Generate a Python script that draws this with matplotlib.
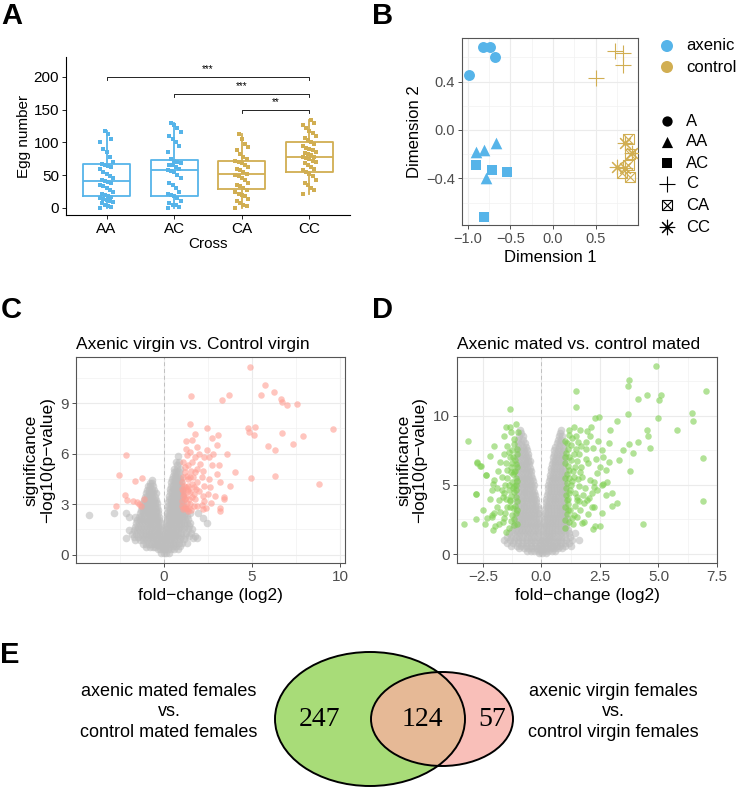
import matplotlib
matplotlib.use("Agg")
import matplotlib.pyplot as plt
from matplotlib.patches import Ellipse
import numpy as np

plt.rcParams['font.family'] = ['Liberation Sans', 'DejaVu Sans']

# ---------------- data ----------------
# A: egg number per cross
crosses = ["AA", "AC", "CA", "CC"]
eggs_AA = [0, 2, 3, 5, 7, 9, 10, 12, 14, 15, 17, 18, 20, 22, 25, 28, 30, 33, 35, 38,
           40, 41, 43, 45, 48, 52, 55, 60, 62, 64, 65, 67, 70, 78, 85, 90, 100, 105, 113, 118]
eggs_AC = [0, 2, 4, 5, 8, 10, 15, 18, 20, 22, 25, 30, 35, 38, 45, 50, 55, 57, 58, 60,
           62, 65, 66, 68, 70, 72, 75, 85, 95, 100, 105, 110, 115, 122, 127, 130]
eggs_CA = [0, 3, 5, 8, 10, 14, 18, 20, 22, 25, 28, 30, 33, 35, 38, 42, 45, 48, 50, 52,
           55, 58, 60, 62, 65, 68, 70, 72, 75, 78, 82, 88, 93, 98, 105, 112]
eggs_CC = [22, 27, 30, 35, 38, 42, 48, 52, 55, 58, 60, 63, 65, 68, 70, 72, 74, 76, 77, 78,
           80, 82, 84, 86, 88, 90, 92, 95, 98, 100, 103, 106, 110, 114, 118, 122, 126, 130, 134]
box_q1 = [18, 18, 29, 55]
box_med = [41, 58, 51, 77]
box_q3 = [67, 73, 71, 100]
box_lo = [0, 0, 0, 22]
box_hi = [118, 130, 112, 134]
sig_from = [1, 2, 3]
sig_to = [4, 4, 4]
sig_y = [200, 174, 150]
sig_lab = ["***", "***", "**"]

# B: MDS coordinates
mds_A = [(-0.985, 0.457), (-0.824, 0.688), (-0.74, 0.688), (-0.68, 0.60)]
mds_AA = [(-0.906, -0.179), (-0.805, -0.165), (-0.672, -0.110), (-0.785, -0.40)]
mds_AC = [(-0.906, -0.289), (-0.711, -0.331), (-0.543, -0.35), (-0.809, -0.716)]
mds_C = [(0.727, 0.655), (0.825, 0.633), (0.825, 0.537), (0.504, 0.427)]
mds_CA = [(0.883, -0.077), (0.90, -0.20), (0.883, -0.289), (0.903, -0.386), (0.805, -0.358)]
mds_CC = [(0.844, -0.11), (0.754, -0.303), (0.922, -0.193), (0.844, -0.317)]

# C: virgin volcano, non-significant cloud (rows of y: x values) and significant genes
c_grey = [
    (5.85, [0.8]), (5.5, [0.7, 0.86]), (5.1, [0.6, 0.75, 0.9]),
    (4.7, [0.5, 0.64, 0.78, 0.92]), (4.3, [0.44, 0.58, 0.72, 0.86, 1.0]),
    (3.9, [0.38, 0.52, 0.66, 0.8, 0.94, 1.06]), (3.5, [0.32, 0.46, 0.6, 0.74, 0.88, 1.02, 1.12]),
    (3.1, [0.27, 0.41, 0.55, 0.69, 0.83, 0.97, 1.1]),
    (2.7, [0.22, 0.36, 0.5, 0.64, 0.78, 0.92, 1.06, 1.2]),
    (2.3, [0.18, 0.32, 0.46, 0.6, 0.74, 0.88, 1.02, 1.16, 1.3]),
    (1.9, [0.15, 0.29, 0.43, 0.57, 0.71, 0.85, 1.0, 1.15, 1.3, 1.5]),
    (1.5, [0.12, 0.26, 0.4, 0.54, 0.68, 0.82, 0.98, 1.15, 1.35, 1.6]),
    (1.1, [0.08, 0.22, 0.36, 0.5, 0.65, 0.8, 0.98, 1.2, 1.45, 1.8]),
    (0.7, [-0.1, 0.05, 0.2, 0.35, 0.5, 0.66, 0.85, 1.05, 1.3]),
    (0.35, [-0.35, -0.2, -0.05, 0.1, 0.25, 0.4, 0.6, 0.8]),
    (0.08, [-0.15, 0.0, 0.15, 0.3]),
    (5.3, [0.78]), (4.9, [0.57, 0.7, 0.84]), (4.5, [0.48, 0.62, 0.76, 0.9]),
    (4.1, [0.41, 0.55, 0.69, 0.83, 0.97]), (3.7, [0.35, 0.49, 0.63, 0.77, 0.91, 1.05]),
    (3.3, [0.3, 0.44, 0.58, 0.72, 0.86, 1.0]), (2.9, [0.25, 0.39, 0.53, 0.67, 0.81, 0.95, 1.12]),
    (2.5, [0.2, 0.34, 0.48, 0.62, 0.76, 0.9, 1.04, 1.22]),
    (2.1, [0.17, 0.31, 0.45, 0.59, 0.73, 0.87, 1.02, 1.2, 1.4]),
    (1.7, [0.13, 0.27, 0.41, 0.55, 0.69, 0.84, 1.0, 1.18, 1.42]),
    (1.3, [0.1, 0.24, 0.38, 0.52, 0.66, 0.82, 1.0, 1.25, 1.55]),
    (0.9, [0.0, 0.14, 0.28, 0.43, 0.58, 0.74, 0.92, 1.15]),
    (0.5, [-0.25, -0.1, 0.05, 0.2, 0.36, 0.52, 0.7, 0.95]),
    (4.45, [-0.66]), (4.05, [-0.9, -0.76, -0.62]),
    (3.65, [-1.0, -0.86, -0.72, -0.58, -0.46]),
    (3.25, [-1.12, -0.98, -0.84, -0.7, -0.56, -0.42]),
    (2.85, [-1.22, -1.08, -0.94, -0.8, -0.66, -0.52, -0.38]),
    (2.45, [-1.35, -1.2, -1.05, -0.9, -0.75, -0.6, -0.46, -0.32]),
    (2.05, [-1.5, -1.32, -1.16, -1.0, -0.85, -0.7, -0.55, -0.4, -0.26]),
    (1.65, [-1.65, -1.45, -1.28, -1.12, -0.96, -0.8, -0.65, -0.5, -0.35, -0.2]),
    (1.25, [-1.8, -1.55, -1.36, -1.18, -1.02, -0.86, -0.7, -0.55, -0.4, -0.25, -0.12]),
    (0.85, [-1.6, -1.35, -1.15, -0.96, -0.78, -0.62, -0.46, -0.3, -0.16]),
    (0.45, [-1.0, -0.8, -0.62, -0.48]),
    (4.25, [-0.8, -0.66]), (3.85, [-0.95, -0.82, -0.68, -0.55]),
    (3.45, [-1.06, -0.92, -0.78, -0.64, -0.5]),
    (3.05, [-1.18, -1.04, -0.9, -0.76, -0.62, -0.48, -0.36]),
    (2.65, [-1.3, -1.15, -1.0, -0.86, -0.72, -0.58, -0.44, -0.32]),
    (2.25, [-1.42, -1.26, -1.1, -0.95, -0.8, -0.66, -0.52, -0.38, -0.26]),
    (1.85, [-1.58, -1.4, -1.22, -1.06, -0.9, -0.75, -0.6, -0.45, -0.3, -0.18]),
    (1.45, [-1.7, -1.5, -1.32, -1.15, -0.98, -0.82, -0.66, -0.5, -0.36, -0.22, -0.1]),
    (1.05, [-1.7, -1.45, -1.25, -1.06, -0.9, -0.74, -0.58, -0.42, -0.28, -0.14]),
    (0.65, [-1.2, -1.0, -0.82, -0.66, -0.5, -0.36, -0.22]),
    (2.35, [-4.25]), (2.5, [-2.82, -2.16]), (2.25, [-1.6, -1.95]), (1.45, [-1.98]),
    (1.0, [-2.16, 1.65, 1.9]), (1.85, [2.45]), (2.5, [1.5, 1.95]), (2.2, [2.25]),
]
c_sig = [
    (4.90, 11.15), (5.71, 10.06), (5.51, 9.52), (6.27, 9.66), (6.64, 9.27), (6.71, 9.07),
    (6.97, 8.87), (7.55, 8.93), (1.55, 9.44), (3.32, 9.2), (3.68, 9.48), (1.47, 7.78),
    (2.44, 7.52), (3.09, 7.10), (2.75, 6.91), (4.75, 7.52), (4.85, 7.30), (5.15, 7.56),
    (5.11, 7.13), (6.71, 7.24), (7.88, 7.07), (9.61, 7.44), (5.89, 6.43), (6.31, 6.23),
    (7.35, 6.6), (4.92, 4.56), (6.31, 4.68), (8.81, 4.19), (3.57, 5.99), (4.06, 4.92),
    (3.75, 4.10), (3.40, 3.31), (3.21, 4.32), (3.03, 4.82), (3.13, 5.35), (2.73, 5.35),
    (2.45, 6.2), (2.27, 5.8), (1.89, 6.39), (1.63, 6.79), (1.25, 6.73), (1.80, 5.8),
    (1.32, 5.9), (1.18, 5.2), (1.55, 5.0), (2.07, 5.4), (2.17, 4.6), (2.55, 4.5),
    (1.89, 4.3), (1.40, 4.1), (1.12, 3.8), (1.70, 3.6), (1.29, 3.4), (1.51, 3.0),
    (1.18, 2.8), (1.89, 2.9), (2.27, 3.2), (2.68, 3.05), (1.36, 4.5), (1.67, 4.6),
    (1.12, 4.6), (1.63, 5.5), (1.36, 2.6), (1.23, 2.82), (1.70, 2.9), (2.18, 2.92),
    (2.40, 2.76), (3.21, 2.76), (3.40, 3.4), (1.05, 3.2), (1.15, 3.6), (1.25, 4.0),
    (1.45, 3.3), (1.35, 3.8), (1.6, 4.2), (1.05, 4.3), (1.2, 4.9), (1.4, 5.3),
    (1.75, 4.9), (1.5, 3.7), (1.3, 3.05), (1.1, 2.7), (1.6, 3.4), (2.0, 3.8),
    (2.3, 4.1), (1.9, 5.1), (2.0, 6.0), (1.5, 6.1), (1.25, 6.3), (2.9, 3.5),
    (2.6, 4.0), (2.8, 6.0), (3.2, 2.6),
    (1.02, 2.9), (1.08, 3.5), (1.15, 4.1), (1.02, 3.9), (1.22, 3.3), (1.3, 2.7),
    (1.4, 3.9), (1.5, 4.6), (1.1, 5.5), (1.3, 4.7), (1.45, 2.75), (1.75, 3.3),
    (1.85, 3.9), (2.2, 3.5), (2.5, 3.6), (1.7, 4.0), (2.2, 5.0), (2.55, 5.8),
    (3.0, 6.5), (1.8, 7.2), (2.2, 2.7), (1.55, 2.65),
    (-2.13, 5.93), (-2.54, 4.72), (-1.22, 4.56), (-1.60, 4.4), (-2.20, 3.54),
    (-2.69, 2.9), (-2.07, 3.25), (-1.38, 3.0), (-1.27, 2.9), (-1.74, 3.2),
    (-1.09, 3.3), (-1.50, 3.1),
]

# D: mated volcano
d_grey = [
    (9.0, [0.85, -0.9]), (8.5, [0.75, 0.9, -0.95, -0.8]),
    (8.0, [0.65, 0.8, 0.95, -1.0, -0.85, -0.7]),
    (7.5, [0.55, 0.7, 0.85, 0.98, -1.0, -0.87, -0.74, -0.62]),
    (7.0, [0.5, 0.62, 0.75, 0.88, 1.0, -1.02, -0.9, -0.78, -0.66, -0.55]),
    (6.5, [0.45, 0.58, 0.7, 0.82, 0.95, -1.0, -0.88, -0.76, -0.64, -0.52]),
    (6.0, [0.4, 0.52, 0.65, 0.78, 0.9, 1.0, -1.02, -0.9, -0.78, -0.66, -0.54, -0.44]),
    (5.5, [0.35, 0.48, 0.6, 0.72, 0.85, 0.97, -1.0, -0.88, -0.76, -0.64, -0.52, -0.4]),
    (5.0, [0.3, 0.42, 0.55, 0.68, 0.8, 0.92, 1.02, -1.03, -0.9, -0.78, -0.66, -0.54, -0.42, -0.32]),
    (4.5, [0.27, 0.4, 0.52, 0.65, 0.78, 0.9, 1.0, -1.0, -0.88, -0.76, -0.64, -0.52, -0.4, -0.3]),
    (4.0, [0.22, 0.35, 0.48, 0.6, 0.72, 0.85, 0.97, -1.03, -0.9, -0.78, -0.66, -0.54, -0.42, -0.3, -0.22]),
    (3.5, [0.18, 0.3, 0.43, 0.56, 0.68, 0.8, 0.92, 1.03, -1.0, -0.88, -0.76, -0.64, -0.52, -0.4, -0.28, -0.18]),
    (3.0, [0.15, 0.27, 0.4, 0.52, 0.65, 0.78, 0.9, 1.0, -1.05, -0.92, -0.8, -0.68, -0.56, -0.44, -0.32, -0.2, -0.12]),
    (2.5, [0.12, 0.24, 0.36, 0.48, 0.6, 0.72, 0.85, 0.97, 1.08, -1.1, -0.97, -0.84, -0.72, -0.6, -0.48, -0.36, -0.24, -0.12]),
    (2.0, [0.1, 0.22, 0.34, 0.46, 0.58, 0.7, 0.82, 0.95, 1.05, -1.15, -1.0, -0.87, -0.75, -0.63, -0.5, -0.38, -0.26, -0.14, -0.06]),
    (1.5, [0.08, 0.2, 0.32, 0.44, 0.56, 0.7, 0.85, 1.0, 1.2, 1.45, -1.4, -1.2, -1.05, -0.9, -0.76, -0.62, -0.48, -0.34, -0.2, -0.08]),
    (1.0, [0.05, 0.17, 0.3, 0.42, 0.55, 0.7, 0.85, 1.05, 1.3, 1.6, -1.6, -1.35, -1.15, -0.98, -0.82, -0.66, -0.5, -0.35, -0.2, -0.06]),
    (0.6, [-0.1, 0.05, 0.2, 0.35, 0.5, 0.65, 0.8, 1.0, 1.25, -1.3, -1.05, -0.85, -0.65, -0.45, -0.28]),
    (0.25, [-0.3, -0.15, 0.0, 0.15, 0.3, 0.45, 0.6, -0.6, -0.45]),
    (0.05, [-0.1, 0.05, 0.2]),
    (8.75, [0.8, -0.88]), (8.25, [0.7, 0.86, -0.98, -0.78]),
    (7.75, [0.6, 0.76, 0.92, -1.0, -0.8, -0.66]),
    (7.25, [0.52, 0.66, 0.8, 0.94, -1.01, -0.84, -0.7, -0.58]),
    (6.75, [0.48, 0.6, 0.73, 0.86, 0.98, -1.01, -0.84, -0.7, -0.58, -0.5]),
    (6.25, [0.42, 0.55, 0.68, 0.8, 0.94, -1.01, -0.84, -0.72, -0.6, -0.48]),
    (5.75, [0.38, 0.5, 0.62, 0.75, 0.88, 1.0, -1.01, -0.84, -0.7, -0.58, -0.45]),
    (5.25, [0.32, 0.45, 0.58, 0.7, 0.83, 0.95, -1.02, -0.84, -0.72, -0.6, -0.48, -0.36]),
    (4.75, [0.29, 0.41, 0.54, 0.66, 0.79, 0.91, 1.02, -1.02, -0.84, -0.72, -0.6, -0.47, -0.35]),
    (4.25, [0.25, 0.38, 0.5, 0.62, 0.75, 0.88, 1.0, -1.02, -0.84, -0.72, -0.6, -0.48, -0.36, -0.26]),
    (3.75, [0.2, 0.32, 0.45, 0.58, 0.7, 0.82, 0.95, -1.02, -0.84, -0.72, -0.6, -0.46, -0.34, -0.22]),
    (3.25, [0.16, 0.28, 0.41, 0.54, 0.66, 0.78, 0.9, 1.02, -1.02, -0.86, -0.74, -0.62, -0.5, -0.38, -0.26, -0.15]),
    (2.75, [0.13, 0.25, 0.38, 0.5, 0.62, 0.75, 0.88, 1.0, -1.08, -0.9, -0.78, -0.66, -0.54, -0.42, -0.3, -0.18]),
    (2.25, [0.11, 0.23, 0.35, 0.47, 0.6, 0.72, 0.84, 0.96, 1.06, -1.12, -0.94, -0.81, -0.69, -0.56, -0.44, -0.32, -0.2, -0.09]),
    (1.75, [0.09, 0.21, 0.33, 0.45, 0.57, 0.7, 0.84, 0.98, 1.12, -1.25, -1.1, -0.96, -0.82, -0.69, -0.55, -0.41, -0.27, -0.14]),
    (1.25, [0.06, 0.18, 0.31, 0.43, 0.56, 0.7, 0.86, 1.02, 1.22, -1.48, -1.28, -1.1, -0.94, -0.78, -0.62, -0.46, -0.3, -0.16]),
    (0.8, [-0.05, 0.1, 0.24, 0.38, 0.52, 0.67, 0.82, 1.0, 1.18, -1.45, -1.2, -1.0, -0.8, -0.62, -0.44, -0.28]),
    (0.42, [-0.2, -0.05, 0.1, 0.25, 0.4, 0.55, 0.72, 0.9, -0.95, -0.75, -0.55, -0.38]),
]
d_sig = [
    (4.89, 13.57), (3.73, 12.6), (3.69, 12.17), (1.47, 11.76), (7.04, 11.76), (4.51, 11.47),
    (5.1, 11.5), (4.13, 11.2), (5.03, 11.16), (1.46, 10.6), (3.69, 10.14), (5.0, 9.85),
    (6.44, 10.2), (6.48, 9.65), (2.31, 9.85), (2.45, 9.9), (3.21, 9.6), (2.95, 9.0),
    (5.8, 8.98), (4.5, 9.0), (4.57, 8.55), (4.64, 7.67), (4.13, 8.07), (3.73, 7.96),
    (3.93, 7.33), (3.8, 6.0), (6.92, 6.95), (6.92, 3.8), (3.24, 3.72), (2.65, 5.1),
    (2.8, 5.2), (3.02, 4.4), (4.35, 2.17), (2.2, 1.8), (2.5, 2.0),
    (-3.13, 8.14), (-2.76, 6.62), (-2.58, 6.33), (-2.79, 4.35), (-2.35, 5.68), (-2.04, 7.8),
    (-1.33, 9.22), (-1.07, 9.43), (-1.35, 10.48), (-2.06, 5.1), (-1.9, 4.78), (-1.68, 5.6),
    (-1.47, 6.1), (-1.25, 6.6), (-1.75, 6.69), (-1.39, 7.4), (-1.18, 7.98), (-1.62, 4.15),
    (-1.33, 3.8), (-1.11, 3.45), (-2.1, 2.8), (-1.8, 2.2), (-2.33, 2.6), (-1.18, 4.9),
    (-1.25, 2.8), (-2.04, 2.95), (-2.1, 2.66), (-1.98, 2.04), (-1.78, 3.07), (-1.65, 2.35),
    (-1.4, 1.86), (-1.18, 2.1), (-1.54, 2.95), (-1.33, 3.43), (-1.82, 3.9), (-1.61, 4.4),
    (-1.4, 4.64), (-1.1, 4.15), (-1.33, 3.9), (-2.75, 6.57), (-2.6, 6.33), (-2.78, 4.33),
    (-2.35, 5.72), (-2.04, 5.36), (-2.11, 4.64), (-1.68, 4.64), (-1.08, 5.5), (-1.12, 6.0),
    (-1.1, 5.0), (-1.15, 4.5), (-1.2, 5.8), (-1.08, 6.5), (-1.2, 7.0), (-1.1, 3.0),
    (-1.15, 2.5), (-1.25, 5.2), (-1.3, 6.3), (-1.05, 7.2), (-1.45, 7.8), (-1.6, 8.5),
    (-1.3, 8.8), (-1.5, 9.2), (-2.2, 7.1), (-2.4, 2.2), (-2.05, 1.75), (-1.5, 1.6),
    (-2.8, 2.5), (-3.3, 2.2),
    (-1.02, 3.2), (-1.05, 3.8), (-1.08, 4.6), (-1.02, 5.3), (-1.15, 5.9), (-1.05, 6.3),
    (-1.12, 6.8), (-1.02, 7.6), (-1.15, 8.3), (-1.0, 8.8), (-1.22, 3.3), (-1.28, 4.2),
    (-1.2, 4.8), (-1.38, 5.0), (-1.45, 5.5), (-1.3, 5.9), (-1.5, 6.6), (-1.35, 7.0),
    (-1.25, 7.5), (-1.6, 7.2), (-1.55, 5.0), (-1.5, 4.0), (-1.45, 3.4), (-1.6, 2.6),
    (-1.3, 2.4), (-1.02, 2.2), (-1.85, 6.0), (-1.9, 3.4), (-2.2, 4.0), (-2.5, 3.2),
    (1.38, 9.22), (1.17, 9.0), (1.66, 9.0), (1.94, 8.87), (2.08, 8.5), (1.25, 7.9),
    (1.46, 7.6), (1.89, 7.6), (2.2, 7.7), (2.57, 7.5), (2.64, 7.0), (2.33, 6.9),
    (2.0, 6.6), (1.53, 6.7), (1.17, 7.0), (1.03, 6.6), (1.17, 6.1), (1.38, 5.6),
    (1.66, 5.9), (2.08, 5.35), (2.24, 4.87), (2.38, 5.85), (1.10, 5.13), (1.24, 4.64),
    (1.53, 4.15), (1.81, 3.67), (2.03, 4.03), (1.1, 3.9), (1.24, 3.19), (1.53, 2.7),
    (1.74, 2.22), (1.03, 2.46), (2.24, 3.43), (2.17, 4.4), (1.03, 1.86), (1.16, 3.2),
    (1.38, 2.83), (1.67, 3.2), (1.81, 2.35), (1.52, 3.92), (1.95, 3.92), (2.16, 3.43),
    (2.3, 2.0), (2.74, 4.29), (2.38, 4.64), (2.24, 5.24), (2.6, 5.0), (2.78, 6.08),
    (2.88, 6.69), (1.05, 7.3), (1.1, 8.0), (1.3, 8.4), (1.08, 5.8), (1.05, 4.3),
    (1.15, 3.6), (1.08, 2.9), (1.3, 5.3), (1.45, 6.3), (1.7, 6.3), (1.6, 7.2),
    (1.9, 8.1), (2.1, 9.2), (1.35, 2.2), (1.85, 4.8), (1.0, 5.5), (1.02, 7.0),
    (1.02, 3.4), (1.12, 4.0), (1.2, 4.4), (1.06, 4.8), (1.28, 5.0), (1.18, 5.5),
    (1.35, 6.0), (1.12, 6.4), (1.25, 6.8), (1.4, 7.2), (1.15, 7.6), (1.02, 8.2),
    (1.2, 8.6), (1.5, 8.5), (1.45, 4.4), (1.6, 4.9), (1.42, 3.5), (1.62, 3.8),
    (1.3, 2.6), (1.18, 2.3), (1.55, 5.4), (1.75, 5.6), (1.9, 6.9), (1.7, 7.8),
    (1.55, 8.1), (2.4, 8.2), (2.9, 8.0), (2.5, 6.3), (3.3, 6.8), (3.5, 7.5),
    (1.8, 4.3), (2.0, 2.9), (2.6, 3.0), (3.0, 3.5),
]

# E: overlap of differentially expressed genes
venn_counts = [247, 124, 57]
venn_left = "axenic mated females\nvs.\ncontrol mated females"
venn_right = "axenic virgin females\nvs.\ncontrol virgin females"

# ---------------- styles ----------------
BLUE = "#56B4E9"
GOLD = "#D1AE52"
W, H = 751, 787
fig = plt.figure(figsize=(W / 100, H / 100), dpi=100)


def rect(l, t, r, b):
    return [l / W, 1 - b / H, (r - l) / W, (b - t) / H]


def bw_style(ax, tick_size):
    for s in ax.spines.values():
        s.set_color("#555555")
        s.set_linewidth(0.8)
    ax.tick_params(length=3, width=0.6, color="#333333", labelcolor="#4D4D4D",
                   labelsize=tick_size, pad=2)
    ax.grid(True, which="major", color="#EBEBEB", lw=0.8, zorder=0)
    ax.grid(True, which="minor", color="#F2F2F2", lw=0.5, zorder=0)
    ax.tick_params(which="minor", length=0)
    ax.set_axisbelow(True)


# ---------------- A ----------------
axA = fig.add_axes(rect(66, 57, 350, 215))
groups = [eggs_AA, eggs_AC, eggs_CA, eggs_CC]
cols = [BLUE, BLUE, GOLD, GOLD]
stats = [dict(med=m, q1=a, q3=b, whislo=lo, whishi=hi, fliers=[])
         for m, a, b, lo, hi in zip(box_med, box_q1, box_q3, box_lo, box_hi)]
bp = axA.bxp(stats, positions=range(1, 5), widths=0.7, showcaps=False, showfliers=False)
for i, c in enumerate(cols):
    bp["boxes"][i].set(color=c, lw=1.3)
    bp["medians"][i].set(color=c, lw=1.3)
    for w in bp["whiskers"][2 * i:2 * i + 2]:
        w.set(color=c, lw=1.3)
for i, (vals, c) in enumerate(zip(groups, cols)):
    n = len(vals)
    jit = ((np.arange(n) * 7) % 9 - 4) * 0.024
    axA.scatter(i + 1 + jit, vals, marker="s", s=12, color=c, zorder=3, lw=0)
for a, b, y, lab in zip(sig_from, sig_to, sig_y, sig_lab):
    axA.plot([a, a, b, b], [y - 5, y, y, y - 5], color="black", lw=0.6)
    axA.text((a + b) / 2, y + 12, lab, ha="center", va="center", fontsize=7)
axA.set_xlim(0.4, 4.6)
axA.set_ylim(-10.7, 230)
axA.set_yticks([0, 50, 100, 150, 200])
axA.set_xticks(range(1, 5))
axA.set_xticklabels(crosses)
axA.spines["top"].set_visible(False)
axA.spines["right"].set_visible(False)
axA.tick_params(length=3, width=0.6, labelsize=11, pad=2)
axA.set_ylabel("Egg number", fontsize=11, labelpad=2)
axA.set_xlabel("Cross", fontsize=11, labelpad=1)

# ---------------- B ----------------
axB = fig.add_axes(rect(462, 38, 638, 225))
bw_style(axB, 10.5)
kw = dict(zorder=3)
axB.scatter(*zip(*mds_A), marker="o", s=62, color=BLUE, lw=0, **kw)
axB.scatter(*zip(*mds_AA), marker="^", s=70, color=BLUE, lw=0, **kw)
axB.scatter(*zip(*mds_AC), marker="s", s=55, color=BLUE, lw=0, **kw)
axB.scatter(*zip(*mds_C), marker="+", s=130, color=GOLD, lw=0.8, **kw)
axB.scatter(*zip(*mds_CA), marker="s", s=55, facecolors="none", edgecolors=GOLD, lw=0.8, **kw)
axB.scatter(*zip(*mds_CA), marker="x", s=40, color=GOLD, lw=0.8, **kw)
axB.scatter(*zip(*mds_CC), marker=(8, 2, 0), s=110, color=GOLD, lw=0.8, **kw)
axB.set_xlim(-1.067, 0.996)
axB.set_ylim(-0.785, 0.76)
axB.set_xticks([-1.0, -0.5, 0.0, 0.5])
axB.set_xticks([-0.75, -0.25, 0.25, 0.75], minor=True)
axB.set_yticks([-0.4, 0.0, 0.4])
axB.set_yticks([-0.6, -0.2, 0.2, 0.6], minor=True)
axB.set_xticklabels(["\u22121.0", "\u22120.5", "0.0", "0.5"])
axB.set_yticklabels(["\u22120.4", "0.0", "0.4"])
axB.set_xlabel("Dimension 1", fontsize=12, labelpad=3)
axB.set_ylabel("Dimension 2", fontsize=12, labelpad=3)

# ---------------- C & D ----------------
def volcano(ax, grey_rows, sig, col, title, xlim, ylim, xt, xmin, yt, ymin, xlabels):
    bw_style(ax, 11)
    gx = [x for y, xs in grey_rows for x in xs]
    gy = [y for y, xs in grey_rows for x in xs]
    ax.scatter(gx, gy, s=30, color="#BDBDBD", alpha=0.6, lw=0, zorder=2)
    sx, sy = zip(*sig)
    ax.scatter(sx, sy, s=22, color=col, alpha=0.6, lw=0, zorder=3)
    ax.axvline(0, color="#C0C0C0", lw=0.7, ls=(0, (4, 3)), zorder=1)
    ax.set_xlim(*xlim)
    ax.set_ylim(*ylim)
    ax.set_xticks(xt)
    ax.set_xticklabels(xlabels)
    ax.set_xticks(xmin, minor=True)
    ax.set_yticks(yt)
    ax.set_yticks(ymin, minor=True)
    ax.set_title(title, loc="left", fontsize=12.5, pad=6)
    ax.set_xlabel("fold\u2212change (log2)", fontsize=12.5, labelpad=3)
    ax.set_ylabel("significance\n\u2212log10(p\u2212value)", fontsize=12.5, labelpad=4,
                  linespacing=1.1)


axC = fig.add_axes(rect(76, 357, 345, 563))
volcano(axC, c_grey, c_sig, "#FF9F94", "Axenic virgin vs. Control virgin",
        (-4.97, 10.27), (-0.5, 11.75), [0, 5, 10], [-2.5, 2.5, 7.5],
        [0, 3, 6, 9], [1.5, 4.5, 7.5, 10.5], ["0", "5", "10"])

axD = fig.add_axes(rect(457, 357, 717, 563))
volcano(axD, d_grey, d_sig, "#7FD052", "Axenic mated vs. control mated",
        (-3.6, 7.5), (-0.65, 14.25), [-2.5, 0, 2.5, 5, 7.5], [-1.25, 1.25, 3.75, 6.25],
        [0, 5, 10], [2.5, 7.5, 12.5], ["\u22122.5", "0.0", "2.5", "5.0", "7.5"])

# ---------------- overlay: letters, legend, Venn ----------------
ov = fig.add_axes([0, 0, 1, 1])
ov.set_xlim(0, W)
ov.set_ylim(H, 0)
ov.axis("off")
ov.patch.set_visible(False)

for lab, x, y in [("A", 1, 16), ("B", 372, 16), ("C", 1, 310), ("D", 372, 310), ("E", 0, 655)]:
    ov.text(x, y, lab, fontsize=21, fontweight="bold", ha="left", va="center")

# B legend
ov.scatter([667, 667], [46, 67], s=75, color=[BLUE, GOLD], lw=0)
ov.text(686, 46, "axenic", fontsize=12, va="center")
ov.text(686, 67, "control", fontsize=12, va="center")
shape_labels = ["A", "AA", "AC", "C", "CA", "CC"]
shape_y = [121, 142, 163, 184, 205, 227]
ov.scatter(667, shape_y[0], marker="o", s=55, color="black", lw=0)
ov.scatter(667, shape_y[1], marker="^", s=65, color="black", lw=0)
ov.scatter(667, shape_y[2], marker="s", s=45, color="black", lw=0)
ov.scatter(667, shape_y[3], marker="+", s=120, color="black", lw=0.8)
ov.scatter(667, shape_y[4], marker="s", s=50, facecolors="none", edgecolors="black", lw=0.8)
ov.scatter(667, shape_y[4], marker="x", s=36, color="black", lw=0.8)
ov.scatter(667, shape_y[5], marker=(8, 2, 0), s=110, color="black", lw=0.8)
for lab, y in zip(shape_labels, shape_y):
    ov.text(686, y, lab, fontsize=12, va="center")

# Venn
green = Ellipse((370, 719), 190, 134, facecolor="#A8DC78", edgecolor="none")
ov.add_patch(green)
pink = Ellipse((442, 719), 142, 94, facecolor="#F9BFB9", edgecolor="none")
ov.add_patch(pink)
inter = Ellipse((442, 719), 142, 94, facecolor="#E6B996", edgecolor="none")
ov.add_patch(inter)
inter.set_clip_path(green)
ov.add_patch(Ellipse((370, 719), 190, 134, facecolor="none", edgecolor="black", lw=1.4))
ov.add_patch(Ellipse((442, 719), 142, 94, facecolor="none", edgecolor="black", lw=1.4))
for val, x in zip(venn_counts, [320, 422, 492]):
    ov.text(x, 720, str(val), fontsize=20, family="Liberation Serif", ha="center", va="center")
ov.text(169, 712, venn_left, fontsize=13, ha="center", va="center", linespacing=1.3,
        multialignment="center")
ov.text(613, 712, venn_right, fontsize=13, ha="center", va="center", linespacing=1.3,
        multialignment="center")

fig.savefig("out.png", dpi=100)
